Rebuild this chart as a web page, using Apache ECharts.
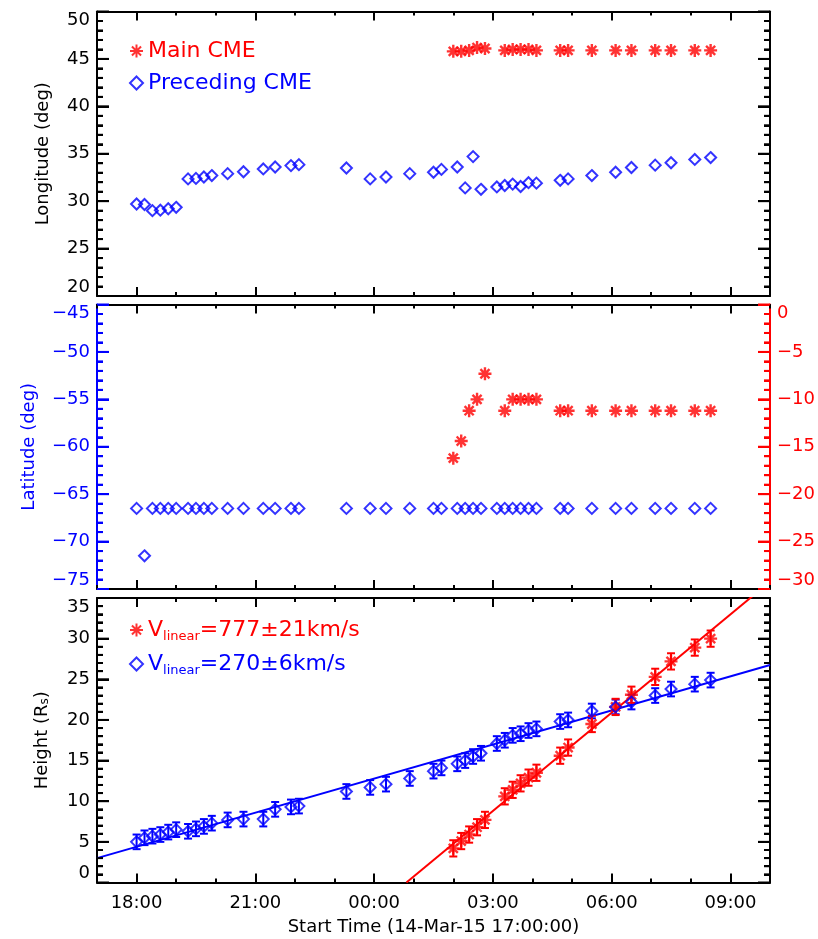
<!DOCTYPE html>
<html>
<head>
<meta charset="utf-8">
<script src="https://cdn.jsdelivr.net/npm/echarts@6/dist/echarts.min.js"></script>
<style>
html, body { margin: 0; padding: 0; background: #fff; }
#main { width: 818px; height: 939px; }
</style>
</head>
<body>
<div id="main"></div>
<script>
// time in hours after 14-Mar-15 17:00:00
var preTime = [1.0, 1.2, 1.4, 1.6, 1.8, 2.0, 2.3, 2.5, 2.7, 2.9, 3.3, 3.7, 4.2, 4.5, 4.9, 5.1, 6.3, 6.9, 7.3, 7.9,
               8.5, 8.7, 9.1, 9.3, 9.5, 9.7, 10.1, 10.3, 10.5, 10.7, 10.9, 11.1, 11.7, 11.9, 12.5, 13.1, 13.5, 14.1, 14.5, 15.1, 15.5];
var preLon = [29.7, 29.65, 29.0, 29.05, 29.2, 29.35, 32.35, 32.4, 32.55, 32.7, 32.9, 33.1, 33.4, 33.6, 33.75, 33.85, 33.5, 32.35, 32.55, 32.9,
              33.05, 33.35, 33.6, 31.4, 34.7, 31.25, 31.5, 31.65, 31.8, 31.55, 31.95, 31.9, 32.2, 32.35, 32.7, 33.05, 33.55, 33.8, 34.05, 34.4, 34.6];
var preLat = [-66.5, -71.5, -66.5, -66.5, -66.5, -66.5, -66.5, -66.5, -66.5, -66.5, -66.5, -66.5, -66.5, -66.5, -66.5, -66.5, -66.5, -66.5, -66.5, -66.5,
              -66.5, -66.5, -66.5, -66.5, -66.5, -66.5, -66.5, -66.5, -66.5, -66.5, -66.5, -66.5, -66.5, -66.5, -66.5, -66.5, -66.5, -66.5, -66.5, -66.5, -66.5];
var preHeight = [5.0, 5.5, 5.7, 5.9, 6.2, 6.5, 6.3, 6.6, 6.9, 7.3, 7.7, 7.8, 7.8, 9.0, 9.3, 9.4, 11.2, 11.7, 12.1, 12.8,
                 13.7, 14.1, 14.6, 15.0, 15.5, 15.9, 17.1, 17.5, 18.1, 18.3, 18.7, 18.9, 19.8, 20.0, 21.1, 21.6, 22.2, 23.0, 23.8, 24.4, 24.9];

var mainTime = [9.0, 9.2, 9.4, 9.6, 9.8, 10.3, 10.5, 10.7, 10.9, 11.1, 11.7, 11.9, 12.5, 13.1, 13.5, 14.1, 14.5, 15.1, 15.5];
var mainLon = [45.8, 45.8, 45.9, 46.2, 46.1, 45.9, 46.0, 46.0, 46.0, 45.9, 45.9, 45.9, 45.9, 45.9, 45.9, 45.9, 45.9, 45.9, 45.9];
var mainLat = [-16.2, -14.4, -11.2, -10.0, -7.3, -11.2, -10.0, -10.0, -10.0, -10.0, -11.2, -11.2, -11.2, -11.2, -11.2, -11.2, -11.2, -11.2, -11.2];
var mainHeight = [4.2, 5.1, 5.9, 6.8, 7.7, 10.6, 11.4, 12.2, 12.9, 13.5, 15.6, 16.6, 19.5, 21.6, 23.1, 25.3, 27.2, 28.9, 30.0];

var preErr = 0.9, mainErr = 1.0;
// linear fits: [slope Rs/hour, intercept Rs]
var preFit = [1.397, 3.0];
var mainFit = [4.03, -31.5];
var fitLabels = ['777\u00b121km/s', '270\u00b16km/s'];

var timeMax = 17;
var timeTicks = [1, 4, 7, 10, 13, 16];

var RED = '#ff0000', BLUE = '#0000ff';
var FONT = 'DejaVu Sans';
var STAR = 'path://M5,0L5,10M0,5L10,5M1.5,1.5L8.5,8.5M1.5,8.5L8.5,1.5';

var chart = echarts.init(document.getElementById('main'));

function zip(t, v, e) {
    return t.map(function (x, i) { return e === undefined ? [x, v[i]] : [x, v[i], e]; });
}
function fmtTime(h) {
    var hh = (17 + h) % 24;
    return (hh < 10 ? '0' : '') + hh + ':00';
}
function fmtNum(v) { return String(v).replace('-', '\u2212'); }
// one tick per unit between axis min and max
function unitTicks(min, max) {
    var out = [];
    for (var v = min; v <= max; v++) out.push([0, v]);
    return out;
}

// four x axes per panel: bottom/top, hourly minor ticks and 3-hourly major ticks
var xAxes = [];
[0, 1, 2].forEach(function (g) {
    ['bottom', 'top'].forEach(function (pos) {
        xAxes.push({
            gridIndex: g, type: 'value', position: pos, min: 0, max: timeMax, interval: 1,
            axisLine: { onZero: false, lineStyle: { color: '#000', width: 2 } },
            axisTick: { inside: true, length: 4, lineStyle: { color: '#000', width: 2 } },
            axisLabel: { show: false }, splitLine: { show: false }
        });
        var major = {
            gridIndex: g, type: 'value', position: pos, min: 0, max: timeMax,
            axisLine: { show: false, onZero: false },
            axisTick: { inside: true, length: 9, customValues: timeTicks, lineStyle: { color: '#000', width: 2 } },
            axisLabel: { show: false }, splitLine: { show: false }
        };
        if (g === 2 && pos === 'bottom') {
            major.axisLabel = {
                show: true, customValues: timeTicks, formatter: fmtTime, margin: 12,
                color: '#000', fontSize: 18, fontFamily: FONT
            };
            major.name = 'Start Time (14-Mar-15 17:00:00)';
            major.nameLocation = 'middle';
            major.nameGap = 36;
            major.nameTextStyle = { color: '#000', fontSize: 18, fontFamily: FONT };
        }
        xAxes.push(major);
    });
});

function yAx(g, pos, min, max, color, labels, name, gap) {
    var a = {
        gridIndex: g, type: 'value', position: pos, min: min, max: max, interval: 5,
        axisLine: { show: true, onZero: false, lineStyle: { color: color, width: 2 } },
        axisTick: { show: true, inside: true, length: 12, lineStyle: { color: color, width: 2 } },
        minorTick: { show: true, splitNumber: 5, length: 6, lineStyle: { color: color, width: 2 } },
        axisLabel: {
            show: labels, color: color, fontSize: 18, fontFamily: FONT, margin: 7, formatter: fmtNum,
            verticalAlignMinLabel: 'bottom', verticalAlignMaxLabel: 'top'
        },
        splitLine: { show: false }
    };
    if (name) {
        a.name = name;
        a.nameLocation = 'middle';
        a.nameRotate = 90;
        a.nameGap = gap;
        a.nameTextStyle = {
            color: color, fontSize: 18, fontFamily: FONT,
            rich: { a: { color: color, fontSize: 18, fontFamily: FONT },
                    s: { color: color, fontSize: 12, fontFamily: FONT, verticalAlign: 'bottom', lineHeight: 12 } }
        };
    }
    return a;
}

var yAxes = [
    yAx(0, 'left', 20, 50, '#000', true, 'Longitude (deg)', 45),
    yAx(0, 'right', 20, 50, '#000', false),
    yAx(1, 'left', -75, -45, BLUE, true, 'Latitude (deg)', 59),
    yAx(1, 'right', -30, 0, RED, true),
    yAx(2, 'left', 0, 35, '#000', true, '{a|Height (R}{s|s}{a|)}', 46),
    yAx(2, 'right', 0, 35, '#000', false)
];

function errorBars(color) {
    return function (params, api) {
        var x = api.value(0), y = api.value(1), e = api.value(2);
        var lo = api.coord([x, y - e]), hi = api.coord([x, y + e]);
        var w = 4, st = { stroke: color, lineWidth: 2 };
        return {
            type: 'group', children: [
                { type: 'line', shape: { x1: lo[0], y1: lo[1], x2: hi[0], y2: hi[1] }, style: st },
                { type: 'line', shape: { x1: lo[0] - w, y1: lo[1], x2: lo[0] + w, y2: lo[1] }, style: st },
                { type: 'line', shape: { x1: hi[0] - w, y1: hi[1], x2: hi[0] + w, y2: hi[1] }, style: st }
            ]
        };
    };
}

// inward y ticks on the panel edges (major every 5, minor every 1)
function yTicks(color, left, right) {
    return function (params, api) {
        var v = api.value(1);
        var p = api.coord([0, v]);
        var size = api.size([timeMax, 0]);
        var x0 = p[0], x1 = p[0] + size[0];
        var len = Math.abs(v % 5) < 1e-6 ? 12 : 6;
        var st = { stroke: color, lineWidth: 2 };
        var ch = [];
        if (left) ch.push({ type: 'line', shape: { x1: x0, y1: p[1], x2: x0 + len, y2: p[1] }, style: st });
        if (right) ch.push({ type: 'line', shape: { x1: x1 - len, y1: p[1], x2: x1, y2: p[1] }, style: st });
        return { type: 'group', children: ch };
    };
}
function tickSeries(xi, yi, min, max, color, left, right) {
    return {
        type: 'custom', xAxisIndex: xi, yAxisIndex: yi, silent: true, clip: false, z: 10,
        renderItem: yTicks(color, left, right), encode: { x: 0, y: 1 }, data: unitTicks(min, max)
    };
}

var starStyle = { color: 'rgba(0,0,0,0)', borderColor: RED, borderWidth: 2.4 };
var diamondStyle = { color: 'rgba(0,0,0,0)', borderColor: BLUE, borderWidth: 2 };

function scatter(name, xi, yi, data, isStar) {
    return {
        name: name, type: 'scatter', xAxisIndex: xi, yAxisIndex: yi, data: data,
        symbol: isStar ? STAR : 'diamond', symbolSize: isStar ? 13 : 11,
        itemStyle: isStar ? starStyle : diamondStyle, z: 5
    };
}

var legendText = { fontSize: 22, fontFamily: FONT };

var option = {
    animation: false,
    grid: [
        { left: 97, right: 48, top: 11.5, height: 284.5 },
        { left: 97, right: 48, top: 304.5, height: 284.5 },
        { left: 97, right: 48, top: 598, height: 284.5 }
    ],
    xAxis: xAxes,
    yAxis: yAxes,
    legend: [
        {
            orient: 'vertical', left: 124, top: 35, itemGap: 10, itemWidth: 13, itemHeight: 13,
            selectedMode: false, textStyle: legendText,
            data: [
                { name: 'Main CME', textStyle: { color: RED } },
                { name: 'Preceding CME', textStyle: { color: BLUE } }
            ]
        },
        {
            orient: 'vertical', left: 124, top: 614, itemGap: 10, itemWidth: 13, itemHeight: 13,
            selectedMode: false,
            data: ['mainH', 'preH'],
            formatter: function (n) {
                return n === 'mainH'
                    ? '{rv|V}{rs|linear}{rv|=' + fitLabels[0] + '}'
                    : '{bv|V}{bs|linear}{bv|=' + fitLabels[1] + '}';
            },
            textStyle: {
                fontSize: 22, fontFamily: FONT,
                rich: {
                    rv: { color: RED, fontSize: 22, fontFamily: FONT, lineHeight: 26 },
                    rs: { color: RED, fontSize: 13, fontFamily: FONT, lineHeight: 12, verticalAlign: 'bottom' },
                    bv: { color: BLUE, fontSize: 22, fontFamily: FONT, lineHeight: 26 },
                    bs: { color: BLUE, fontSize: 13, fontFamily: FONT, lineHeight: 12, verticalAlign: 'bottom' }
                }
            }
        }
    ],
    series: [
        tickSeries(0, 0, 20, 50, '#000', true, true),
        tickSeries(4, 2, -75, -45, BLUE, true, false),
        tickSeries(4, 3, -30, 0, RED, false, true),
        tickSeries(8, 4, 0, 35, '#000', true, true),
        scatter('Main CME', 0, 0, zip(mainTime, mainLon), true),
        scatter('Preceding CME', 0, 0, zip(preTime, preLon), false),
        scatter('Main CME', 4, 3, zip(mainTime, mainLat), true),
        scatter('Preceding CME', 4, 2, zip(preTime, preLat), false),
        {
            type: 'line', xAxisIndex: 8, yAxisIndex: 4, symbol: 'none', clip: true, silent: true,
            lineStyle: { color: BLUE, width: 2 },
            data: [[0, preFit[1]], [timeMax, preFit[0] * timeMax + preFit[1]]]
        },
        {
            type: 'line', xAxisIndex: 8, yAxisIndex: 4, symbol: 'none', clip: true, silent: true,
            lineStyle: { color: RED, width: 2 },
            data: [[-mainFit[1] / mainFit[0], 0], [timeMax, mainFit[0] * timeMax + mainFit[1]]]
        },
        {
            type: 'custom', xAxisIndex: 8, yAxisIndex: 4, renderItem: errorBars(BLUE),
            encode: { x: 0, y: 1 }, data: zip(preTime, preHeight, preErr), z: 4
        },
        {
            type: 'custom', xAxisIndex: 8, yAxisIndex: 4, renderItem: errorBars(RED),
            encode: { x: 0, y: 1 }, data: zip(mainTime, mainHeight, mainErr), z: 4
        },
        scatter('mainH', 8, 4, zip(mainTime, mainHeight), true),
        scatter('preH', 8, 4, zip(preTime, preHeight), false)
    ]
};

chart.setOption(option);
</script>
</body>
</html>
